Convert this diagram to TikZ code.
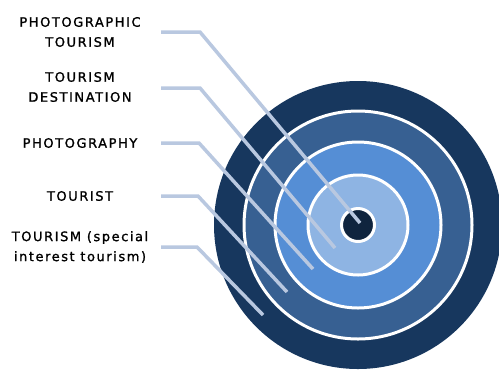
\documentclass[tikz,border=0pt]{standalone}
\usepackage{fontspec}
\newfontfamily\lblfamily[LetterSpace=12,FakeBold=1.2]{DejaVu Sans}
\definecolor{ringnavy}{HTML}{17375E}
\definecolor{ringmid}{HTML}{376092}
\definecolor{ringblue}{HTML}{558ED5}
\definecolor{ringlight}{HTML}{8EB4E3}
\definecolor{ringcore}{HTML}{0F243E}
\definecolor{linkblue}{HTML}{B9C8E0}
\begin{document}
\begin{tikzpicture}[x=1bp, y=-1bp,
  every node/.style={font=\lblfamily\fontsize{13bp}{20bp}\selectfont},
  lbl/.style={align=center,inner sep=0pt},
  ring/.style={circle,inner sep=0pt,draw=white,line width=3bp},
  link/.style={draw=linkblue,line width=3.5bp}]
\useasboundingbox (0,0) rectangle (499,369);
\fill[ringnavy] (358,225) circle (144bp);
\node[ring,fill=ringmid,minimum size=228bp] (tourism) at (358,225) {};
\node[ring,fill=ringblue,minimum size=166bp] (tourist) at (358,225) {};
\node[ring,fill=ringlight,minimum size=100bp] (photo) at (358,225) {};
\node[ring,fill=ringcore,minimum size=33bp] (core) at (358,225) {};
\node[lbl] (phototour) at (80,32) {PHOTOGRAPHIC\\TOURISM};
\node[lbl] (dest) at (80,87) {TOURISM\\DESTINATION};
\node[lbl] (photog) at (80,143) {PHOTOGRAPHY};
\node[lbl] (tourer) at (80,196) {TOURIST};
\node[lbl] (special) at (80,247) {TOURISM (special\\interest tourism)};
\coordinate (phototour-s) at (161,32);
\coordinate (phototour-k) at (200,32);
\coordinate (phototour-e) at (360,223);
\coordinate (dest-s) at (161,88);
\coordinate (dest-k) at (200,88);
\coordinate (dest-e) at (335,248);
\coordinate (photog-s) at (161,143);
\coordinate (photog-k) at (199,143);
\coordinate (photog-e) at (313,269);
\coordinate (tourer-s) at (161,196);
\coordinate (tourer-k) at (198,196);
\coordinate (tourer-e) at (287,292);
\coordinate (special-s) at (161,247);
\coordinate (special-k) at (197,247);
\coordinate (special-e) at (263,315);
\draw[link] (phototour-s) -- (phototour-k) -- (phototour-e);
\draw[link] (dest-s) -- (dest-k) -- (dest-e);
\draw[link] (photog-s) -- (photog-k) -- (photog-e);
\draw[link] (tourer-s) -- (tourer-k) -- (tourer-e);
\draw[link] (special-s) -- (special-k) -- (special-e);
\end{tikzpicture}
\end{document}
